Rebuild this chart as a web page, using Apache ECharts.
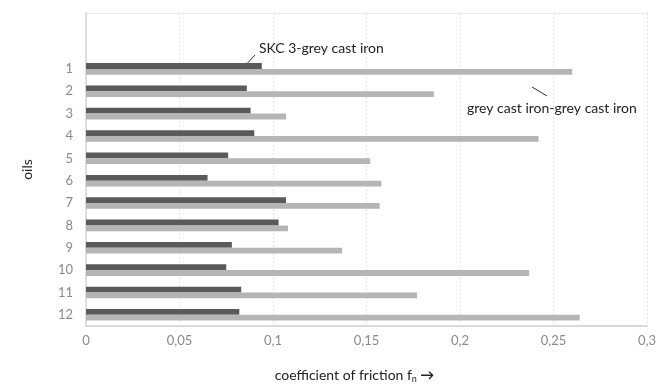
<!DOCTYPE html>
<html><head><meta charset="utf-8">
<script src="https://cdn.jsdelivr.net/npm/echarts@6/dist/echarts.min.js"></script>
<style>html,body{margin:0;padding:0;background:#fff}#c{width:659px;height:389px}</style>
</head><body><div id="c"></div>
<script>
var categories = ['1','2','3','4','5','6','7','8','9','10','11','12'];
var skcValues = [0.094,0.086,0.088,0.090,0.076,0.065,0.107,0.103,0.078,0.075,0.083,0.082];
var greyValues = [0.260,0.186,0.107,0.242,0.152,0.158,0.157,0.108,0.137,0.237,0.177,0.264];
var seriesNames = ['SKC 3-grey cast iron','grey cast iron-grey cast iron'];
var xTicks = {min:0, max:0.3, interval:0.05};

var FONT = 'Lato';
var axisCats = ['',''].concat(categories);
var pad = function(a){ return [null,null].concat(a); };

var chart = echarts.init(document.getElementById('c'));
chart.setOption({
  animation:false,
  textStyle:{fontFamily:FONT},
  grid:{left:86,right:7,top:13,bottom:55},
  xAxis:[{
    type:'value', min:xTicks.min, max:xTicks.max, interval:xTicks.interval,
    axisLine:{show:true,lineStyle:{color:'#d9d9d9',width:2}}, axisTick:{show:false},
    splitLine:{show:true,lineStyle:{color:'#e2e2e2',type:[2,2],width:1}},
    axisLabel:{color:'#8a8a8a',fontSize:13,margin:8,fontFamily:FONT,
      formatter:function(v){return String(+v.toFixed(2)).replace('.',',');}},
    name:'{t|coefficient of friction f}{s|n}{a| →}',
    nameLocation:'middle', nameGap:40,
    nameTextStyle:{padding:[0,24,0,0],rich:{
      t:{fontSize:14,color:'#222',fontFamily:FONT},
      a:{fontSize:14,color:'#222',fontFamily:FONT,fontWeight:'bold'},
      s:{fontSize:9,color:'#222',fontFamily:FONT,verticalAlign:'bottom',padding:[9,0,0,0]}}}
  },{
    type:'value', position:'top', min:xTicks.min, max:xTicks.max,
    axisLine:{show:true,lineStyle:{color:'#e2e2e2',type:[2,2],width:1}},
    axisTick:{show:false}, axisLabel:{show:false}, splitLine:{show:false}
  }],
  yAxis:{
    type:'category', data:axisCats, inverse:true,
    axisLine:{show:true,lineStyle:{color:'#d6d6d6',width:1.5}},
    axisTick:{show:false},
    axisLabel:{color:'#8a8a8a',fontSize:13,margin:13,fontFamily:FONT},
    name:'oils', nameLocation:'middle', nameGap:52,
    nameTextStyle:{color:'#222',fontSize:14,fontFamily:FONT}
  },
  series:[{
    name:seriesNames[0], type:'bar', data:pad(skcValues), barWidth:5.8, barGap:'0%',
    itemStyle:{color:'#5a5a5a'}
  },{
    name:seriesNames[1], type:'bar', data:pad(greyValues), barWidth:5.8, barGap:'0%',
    itemStyle:{color:'#b5b5b5'}
  }],
  graphic:[
    {type:'line',shape:{x1:242,y1:69,x2:255,y2:55},style:{stroke:'#333',lineWidth:1}},
    {type:'text',left:259,top:41,style:{text:seriesNames[0],fontSize:14,fill:'#222',fontFamily:FONT}},
    {type:'line',shape:{x1:532,y1:87,x2:547,y2:96},style:{stroke:'#333',lineWidth:1}},
    {type:'text',left:467,top:101,style:{text:seriesNames[1],fontSize:14,fill:'#222',fontFamily:FONT}}
  ]
});
</script></body></html>
